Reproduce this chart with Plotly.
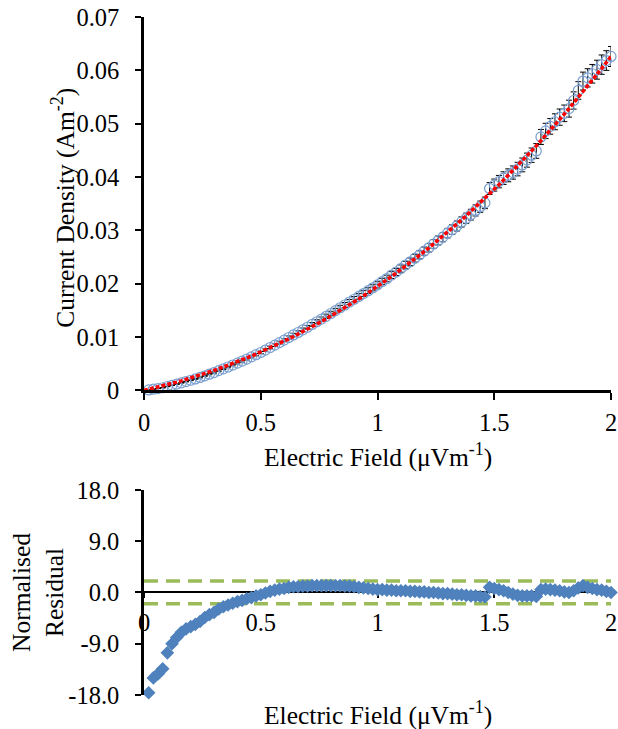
import plotly.graph_objects as go

# ---------------- data ----------------
E = [0.02, 0.04, 0.06, 0.08, 0.10, 0.12, 0.14, 0.16, 0.18, 0.20,
     0.22, 0.24, 0.26, 0.28, 0.30, 0.32, 0.34, 0.36, 0.38, 0.40,
     0.42, 0.44, 0.46, 0.48, 0.50, 0.52, 0.54, 0.56, 0.58, 0.60,
     0.62, 0.64, 0.66, 0.68, 0.70, 0.72, 0.74, 0.76, 0.78, 0.80,
     0.82, 0.84, 0.86, 0.88, 0.90, 0.92, 0.94, 0.96, 0.98, 1.00,
     1.02, 1.04, 1.06, 1.08, 1.10, 1.12, 1.14, 1.16, 1.18, 1.20,
     1.22, 1.24, 1.26, 1.28, 1.30, 1.32, 1.34, 1.36, 1.38, 1.40,
     1.42, 1.44, 1.46, 1.48, 1.50, 1.52, 1.54, 1.56, 1.58, 1.60,
     1.62, 1.64, 1.66, 1.68, 1.70, 1.72, 1.74, 1.76, 1.78, 1.80,
     1.82, 1.84, 1.86, 1.88, 1.90, 1.92, 1.94, 1.96, 1.98, 2.00]

J_MEAS = [0.00009, 0.00023, 0.00035, 0.00050, 0.00073, 0.00096, 0.00118, 0.00142, 0.00166, 0.00190,
          0.00215, 0.00243, 0.00274, 0.00304, 0.00335, 0.00371, 0.00405, 0.00439, 0.00475, 0.00512,
          0.00549, 0.00588, 0.00628, 0.00670, 0.00711, 0.00757, 0.00804, 0.00849, 0.00896, 0.00942,
          0.00992, 0.01040, 0.01086, 0.01136, 0.01184, 0.01237, 0.01287, 0.01337, 0.01389, 0.01442,
          0.01495, 0.01550, 0.01601, 0.01657, 0.01709, 0.01762, 0.01816, 0.01869, 0.01924, 0.01979,
          0.02041, 0.02098, 0.02162, 0.02220, 0.02284, 0.02351, 0.02411, 0.02479, 0.02541, 0.02611,
          0.02673, 0.02745, 0.02810, 0.02874, 0.02948, 0.03015, 0.03082, 0.03158, 0.03226, 0.03295,
          0.03374, 0.03444, 0.03515, 0.03785, 0.03849, 0.03914, 0.03980, 0.04032, 0.04084, 0.04149,
          0.04227, 0.04317, 0.04409, 0.04489, 0.04751, 0.04864, 0.04950, 0.05036, 0.05123, 0.05194,
          0.05282, 0.05435, 0.05623, 0.05799, 0.05859, 0.05936, 0.06012, 0.06107, 0.06184, 0.06260]

J_ERR = [0.000006, 0.000012, 0.000019, 0.000025, 0.000032, 0.000039, 0.000047, 0.000054, 0.000062, 0.000070,
         0.000078, 0.000086, 0.000095, 0.000104, 0.000113, 0.000122, 0.000131, 0.000141, 0.000151, 0.000161,
         0.000172, 0.000182, 0.000194, 0.000205, 0.000216, 0.000228, 0.000240, 0.000252, 0.000264, 0.000277,
         0.000290, 0.000303, 0.000316, 0.000330, 0.000344, 0.000358, 0.000373, 0.000387, 0.000402, 0.000418,
         0.000433, 0.000449, 0.000465, 0.000481, 0.000498, 0.000515, 0.000532, 0.000549, 0.000567, 0.000585,
         0.000603, 0.000622, 0.000641, 0.000660, 0.000679, 0.000699, 0.000719, 0.000739, 0.000760, 0.000781,
         0.000802, 0.000824, 0.000845, 0.000867, 0.000890, 0.000913, 0.000936, 0.000959, 0.000983, 0.001007,
         0.001031, 0.001055, 0.001080, 0.001106, 0.001131, 0.001157, 0.001183, 0.001210, 0.001236, 0.001264,
         0.001291, 0.001319, 0.001347, 0.001376, 0.001404, 0.001433, 0.001463, 0.001493, 0.001523, 0.001553,
         0.001585, 0.001616, 0.001647, 0.001679, 0.001712, 0.001744, 0.001777, 0.001811, 0.001844, 0.001878]

FIT_E = [0.00] + E
FIT_J = [0.00000,
         0.00020, 0.00041, 0.00062, 0.00084, 0.00107, 0.00131, 0.00155, 0.00180, 0.00206, 0.00232,
         0.00259, 0.00287, 0.00316, 0.00345, 0.00375, 0.00406, 0.00438, 0.00470, 0.00504, 0.00538,
         0.00573, 0.00608, 0.00645, 0.00682, 0.00720, 0.00759, 0.00799, 0.00839, 0.00880, 0.00923,
         0.00966, 0.01010, 0.01054, 0.01100, 0.01146, 0.01194, 0.01242, 0.01291, 0.01341, 0.01392,
         0.01443, 0.01496, 0.01550, 0.01604, 0.01659, 0.01716, 0.01773, 0.01831, 0.01890, 0.01950,
         0.02011, 0.02073, 0.02136, 0.02200, 0.02264, 0.02330, 0.02397, 0.02464, 0.02533, 0.02603,
         0.02673, 0.02745, 0.02818, 0.02891, 0.02966, 0.03042, 0.03119, 0.03196, 0.03275, 0.03355,
         0.03436, 0.03518, 0.03601, 0.03685, 0.03770, 0.03856, 0.03944, 0.04032, 0.04121, 0.04212,
         0.04304, 0.04396, 0.04490, 0.04585, 0.04681, 0.04778, 0.04877, 0.04976, 0.05077, 0.05178,
         0.05282, 0.05386, 0.05491, 0.05597, 0.05705, 0.05814, 0.05923, 0.06035, 0.06147, 0.06260]

RESIDUAL = [-17.6, -15.0, -14.3, -13.4, -10.6, -9.0, -7.9, -7.0, -6.4, -6.0,
            -5.6, -5.1, -4.4, -3.9, -3.5, -2.9, -2.5, -2.2, -1.9, -1.6,
            -1.4, -1.1, -0.9, -0.6, -0.4, -0.1, 0.2, 0.4, 0.6, 0.7,
            0.9, 1.0, 1.0, 1.1, 1.1, 1.2, 1.2, 1.2, 1.2, 1.2,
            1.2, 1.2, 1.1, 1.1, 1.0, 0.9, 0.8, 0.7, 0.6, 0.5,
            0.5, 0.4, 0.4, 0.3, 0.3, 0.3, 0.2, 0.2, 0.1, 0.1,
            0.0, 0.0, -0.1, -0.2, -0.2, -0.3, -0.4, -0.4, -0.5, -0.6,
            -0.6, -0.7, -0.8, 0.9, 0.7, 0.5, 0.3, 0.0, -0.3, -0.5,
            -0.6, -0.6, -0.6, -0.7, 0.5, 0.6, 0.5, 0.4, 0.3, 0.1,
            0.0, 0.3, 0.8, 1.2, 0.9, 0.7, 0.5, 0.4, 0.2, 0.0]

BAND_E = [0.0, 2.0]
BAND_UPPER = [2.0, 2.0]
BAND_LOWER = [-2.0, -2.0]

TOP_Y_TICKS = [0, 0.01, 0.02, 0.03, 0.04, 0.05, 0.06, 0.07]
TOP_Y_LABELS = ["0", "0.01", "0.02", "0.03", "0.04", "0.05", "0.06", "0.07"]
X_TICKS = [0, 0.5, 1, 1.5, 2]
X_LABELS = ["0", "0.5", "1", "1.5", "2"]
RES_Y_TICKS = [-18, -9, 0, 9, 18]
RES_Y_LABELS = ["-18.0", "-9.0", "0.0", "9.0", "18.0"]

X_TITLE = "Electric Field (\u03bcVm<sup>-1</sup>)"
Y_TITLE_TOP = "Current Density (Am<sup>-2</sup>)"
Y_TITLE_BOTTOM = "Normalised<br>Residual"

# ---------------- figure geometry (pixels) ----------------
W, H = 618, 729
L, R, T, B = 144, 611, 17.2, 695          # outer plot box in pixels
FONT = "Liberation Serif, Times New Roman, serif"
TICK_FS = 24.5
TITLE_FS = 25.5

PW, PH = R - L, B - T

def px_x(p):
    return (p - L) / PW

def px_y(p):
    return (B - p) / PH

x_dom = [0, 1]
top_dom = [px_y(390.5), 1]
bot_dom = [0, px_y(490)]

fig = go.Figure()

fig.add_trace(go.Scatter(
    x=E, y=J_MEAS, mode="markers", xaxis="x", yaxis="y",
    marker=dict(symbol="circle-open", size=10, color="#7A9FD0", line=dict(width=1.2, color="#7A9FD0")),
    error_y=dict(type="data", array=J_ERR, visible=True, color="black", thickness=1, width=3),
    cliponaxis=False, showlegend=False,
))
fig.add_trace(go.Scatter(
    x=FIT_E, y=FIT_J, mode="lines", xaxis="x", yaxis="y",
    line=dict(color="#FF0000", width=3.5, dash="4px,2px"),
    cliponaxis=False, showlegend=False,
))

fig.add_trace(go.Scatter(
    x=BAND_E, y=BAND_UPPER, mode="lines", xaxis="x2", yaxis="y2",
    line=dict(color="#9BBB59", width=3.5, dash="14px,8px"), showlegend=False,
))
fig.add_trace(go.Scatter(
    x=BAND_E, y=BAND_LOWER, mode="lines", xaxis="x2", yaxis="y2",
    line=dict(color="#9BBB59", width=3.5, dash="14px,8px"), showlegend=False,
))
fig.add_trace(go.Scatter(
    x=E, y=RESIDUAL, mode="markers", xaxis="x2", yaxis="y2",
    marker=dict(symbol="diamond", size=10.5, color="#4F81BD", line=dict(width=0)),
    cliponaxis=False, showlegend=False,
))

axis_common = dict(
    showgrid=False, zeroline=False, showline=True, linecolor="black",
    ticks="outside", tickcolor="black", tickwidth=2, automargin=False,
    tickfont=dict(family=FONT, size=TICK_FS, color="black"),
)

fig.update_layout(
    width=W, height=H,
    margin=dict(l=L, r=W - R, t=T, b=H - B, pad=0, autoexpand=False),
    paper_bgcolor="white", plot_bgcolor="white",
    font=dict(family=FONT, size=TICK_FS, color="black"),
    showlegend=False,
    xaxis=dict(domain=x_dom, anchor="y", range=[0, 2], tickvals=X_TICKS, ticktext=X_LABELS,
               linewidth=2.5, ticklen=7, ticklabelstandoff=1, **axis_common),
    yaxis=dict(domain=top_dom, anchor="x", range=[0, 0.07], tickvals=TOP_Y_TICKS, ticktext=TOP_Y_LABELS,
               linewidth=2.5, ticklen=6, ticklabelstandoff=11, **axis_common),
    xaxis2=dict(domain=x_dom, anchor="free", position=(bot_dom[0] + bot_dom[1]) / 2,
                range=[0, 2], tickvals=X_TICKS, ticktext=X_LABELS, layer="below traces",
                linewidth=2, ticklen=5, ticklabelstandoff=3, **axis_common),
    yaxis2=dict(domain=bot_dom, anchor="x2", range=[-18, 18], tickvals=RES_Y_TICKS, ticktext=RES_Y_LABELS,
                linewidth=2.5, ticklen=6, ticklabelstandoff=11, **axis_common),
)

ann_font = dict(family=FONT, size=TITLE_FS, color="black")
fig.add_annotation(text=X_TITLE, x=px_x(378), y=px_y(456), xref="paper", yref="paper",
                   showarrow=False, font=ann_font, xanchor="center", yanchor="middle")
fig.add_annotation(text=X_TITLE, x=px_x(378), y=px_y(713), xref="paper", yref="paper",
                   showarrow=False, font=ann_font, xanchor="center", yanchor="middle")
fig.add_annotation(text=Y_TITLE_TOP, x=px_x(64), y=px_y(208), xref="paper", yref="paper",
                   showarrow=False, font=ann_font, textangle=-90, xanchor="center", yanchor="middle")
fig.add_annotation(text=Y_TITLE_BOTTOM, x=px_x(38), y=px_y(593), xref="paper", yref="paper",
                   showarrow=False, font=ann_font, textangle=-90, xanchor="center", yanchor="middle")

fig.write_html("out.html", config={"displayModeBar": False},
               post_script="document.body.style.margin='0px';")
